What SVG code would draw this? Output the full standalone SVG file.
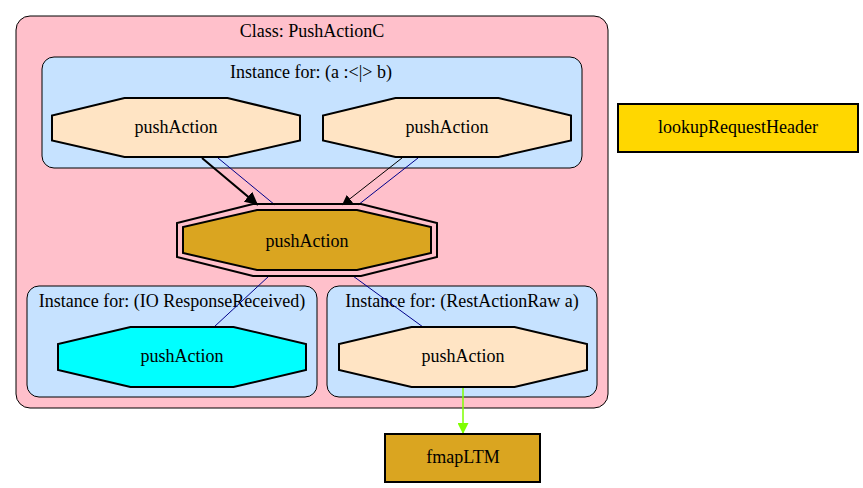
<svg xmlns="http://www.w3.org/2000/svg" width="863" height="488" viewBox="0 0 863 488">
<defs>
<style>
text{font-family:'Liberation Serif','DejaVu Serif','Times New Roman',Times,serif;font-size:18px;fill:#000;text-anchor:middle}
.cl{stroke:#000;stroke-width:1}
.outer{fill:#ffc0cb}
.inst{fill:#c6e2ff}
.nd{stroke:#000;stroke-width:2}
.bisque{fill:#ffe4c4}
.gold{fill:#daa520}
</style>
<marker id="ahB" viewBox="0 0 10 10" refX="10" refY="5" markerWidth="10" markerHeight="10" markerUnits="userSpaceOnUse" orient="auto"><path d="M0,0 L10,5 L0,10 z" fill="#000"/></marker>
<marker id="ahB2" viewBox="0 0 10 10" refX="10" refY="5" markerWidth="13" markerHeight="13" markerUnits="userSpaceOnUse" orient="auto"><path d="M0,0 L10,5 L0,10 z" fill="#000"/></marker>
<marker id="ahG" viewBox="0 0 10 10" refX="10" refY="5" markerWidth="14" markerHeight="11" markerUnits="userSpaceOnUse" orient="auto"><path d="M0,0 L10,5 L0,10 z" fill="#7fff00"/></marker>
</defs>
<g font-family="Liberation Serif, DejaVu Serif, serif">
<g id="cluster_class">
<rect class="cl outer" x="16" y="16" width="592" height="392" rx="14"/>
<text x="312" y="37" font-family="Liberation Serif, serif">Class: PushActionC</text>
</g>
<g id="cluster_inst1">
<rect class="cl inst" x="42" y="57" width="540" height="111" rx="12"/>
<text x="311" y="78" font-family="Liberation Serif, serif">Instance for: (a :&lt;|&gt; b)</text>
</g>
<g id="cluster_inst2">
<rect class="cl inst" x="27" y="286" width="290" height="111" rx="12"/>
<text x="172" y="307" font-family="Liberation Serif, serif">Instance for: (IO ResponseReceived)</text>
</g>
<g id="cluster_inst3">
<rect class="cl inst" x="327" y="286" width="270" height="111" rx="12"/>
<text x="462" y="307" font-family="Liberation Serif, serif">Instance for: (RestActionRaw a)</text>
</g>
<g id="edges">
<line x1="202" y1="158" x2="258" y2="205" stroke="#000" stroke-width="2" marker-end="url(#ahB2)"/>
<line x1="218" y1="158" x2="275" y2="205" stroke="#00008b" stroke-width="1"/>
<line x1="402" y1="158" x2="342" y2="205" stroke="#000" stroke-width="1" marker-end="url(#ahB)"/>
<line x1="418" y1="158" x2="358" y2="205" stroke="#00008b" stroke-width="1"/>
<line x1="269" y1="276" x2="214" y2="327" stroke="#00008b" stroke-width="1"/>
<line x1="353" y1="276" x2="423" y2="327" stroke="#00008b" stroke-width="1"/>
<line x1="463" y1="387" x2="463" y2="434" stroke="#7fff00" stroke-width="1.5" marker-end="url(#ahG)"/>
</g>
<g id="node_pa1">
<polygon class="nd bisque" points="124.5,98 227.5,98 300,115.5 300,140.5 227.5,157 124.5,157 52,140.5 52,115.5"/>
<text x="176" y="133" font-family="Liberation Serif, serif">pushAction</text>
</g>
<g id="node_pa2">
<polygon class="nd bisque" points="395.5,98 498.5,98 571,115.5 571,140.5 498.5,157 395.5,157 323,140.5 323,115.5"/>
<text x="447" y="133" font-family="Liberation Serif, serif">pushAction</text>
</g>
<g id="node_center">
<polygon class="nd" fill="none" points="253,204 361,204 437,223 437,257 361,276 253,276 177,257 177,223"/>
<polygon class="nd gold" points="257,210 357,210 431,227 431,253 357,270 257,270 183,253 183,227"/>
<text x="307" y="247" font-family="Liberation Serif, serif">pushAction</text>
</g>
<g id="node_io">
<polygon class="nd" fill="#00ffff" points="130.5,327 233.5,327 306,344 306,370 233.5,387 130.5,387 58,370 58,344"/>
<text x="182" y="362" font-family="Liberation Serif, serif">pushAction</text>
</g>
<g id="node_rest">
<polygon class="nd bisque" points="411.5,327 514.5,327 587,344 587,370 514.5,387 411.5,387 339,370 339,344"/>
<text x="463" y="362" font-family="Liberation Serif, serif">pushAction</text>
</g>
<g id="node_fmapLTM">
<rect class="nd gold" x="385" y="434" width="155" height="48"/>
<text x="463" y="463" font-family="Liberation Serif, serif">fmapLTM</text>
</g>
<g id="node_lookup">
<rect class="nd" fill="#ffd700" x="618" y="104" width="240" height="48"/>
<text x="738" y="133" font-family="Liberation Serif, serif">lookupRequestHeader</text>
</g>
</g>
</svg>
